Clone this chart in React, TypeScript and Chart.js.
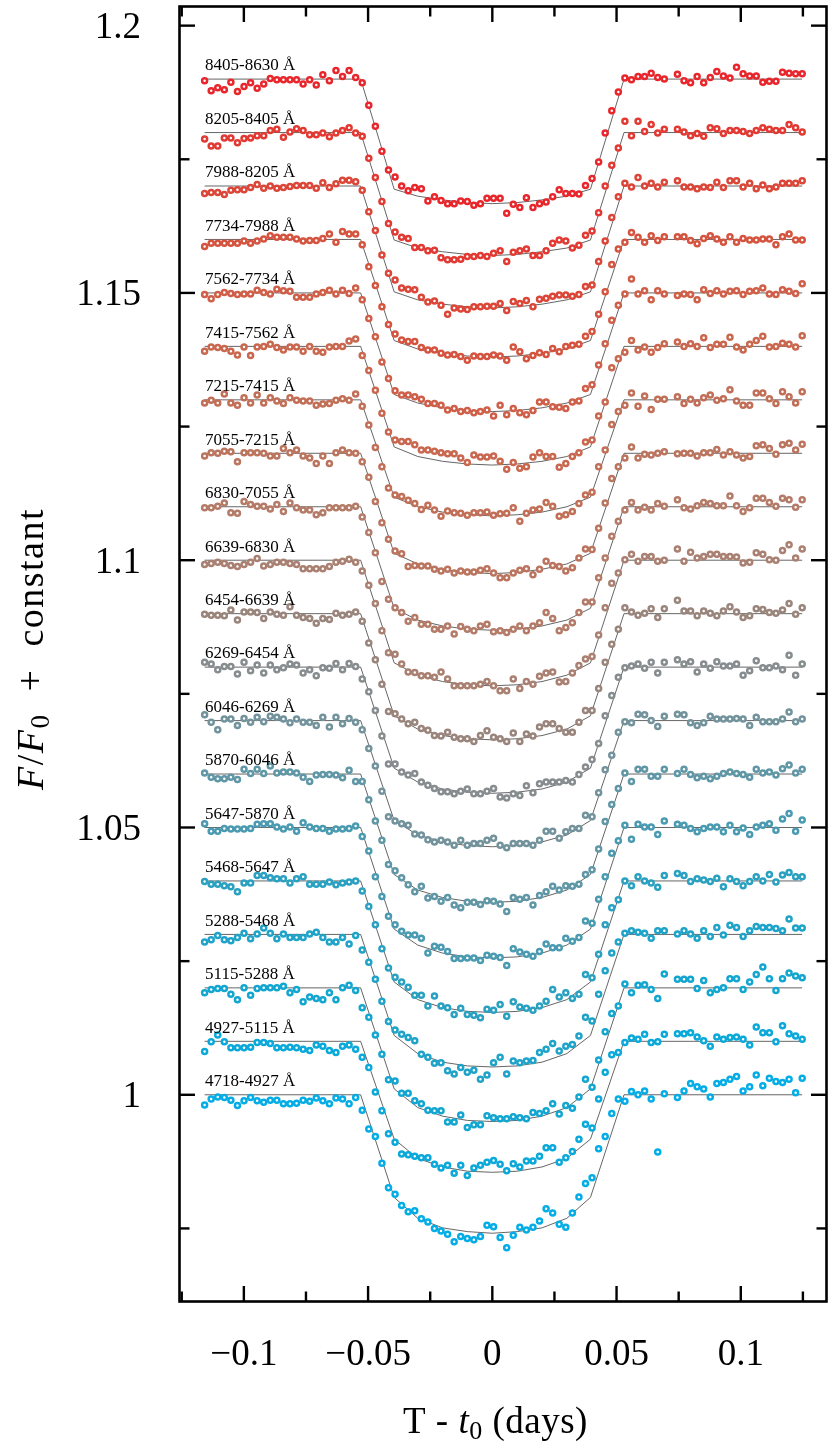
import React, { useEffect, useRef } from 'react';
import { Chart, registerables } from 'chart.js';
Chart.register(...registerables);

// ---------- data ----------
const BANDS = ['8405-8630', '8205-8405', '7988-8205', '7734-7988', '7562-7734', '7415-7562', '7215-7415', '7055-7215', '6830-7055', '6639-6830', '6454-6639', '6269-6454', '6046-6269', '5870-6046', '5647-5870', '5468-5647', '5288-5468', '5115-5288', '4927-5115', '4718-4927'];
const OFFSETS = [1.19, 1.18, 1.17, 1.16, 1.15, 1.14, 1.13, 1.12, 1.11, 1.1, 1.09, 1.08, 1.07, 1.06, 1.05, 1.04, 1.03, 1.02, 1.01, 1.0];
const COLORS = ['#e8262b', '#e23a33', '#db4638', '#d5543f', '#cf5f48', '#c9684f', '#c26f58', '#bb755f', '#b47b68', '#a98071', '#9a857c', '#878c8f', '#73939c', '#6097a6', '#4a9bb1', '#2aa1c1', '#1fa3c8', '#13a6d0', '#0aa9da', '#05ade6'];

// observation times (days from mid-transit): first exposure and cadence
const T_START = -0.11579;
const CADENCE = 0.002643;

// relative flux minus band offset, in units of 1e-4 (null = missing exposure)
const F_8405 = [-3,-22,-16,-20,-6,-23,-14,-7,-17,-9,1,-1,-1,-1,-1,-9,-1,-11,8,-3,16,5,16,3,-7,-49,-88,-135,-170,-183,-200,-209,-203,-205,-228,-220,-227,-233,-233,-228,-229,-236,-233,-223,-223,-223,-251,-234,-240,-222,-240,-233,-230,-220,-207,-214,-214,-215,-199,-186,-155,-101,-59,-24,2,-1,5,5,11,3,0,null,9,-3,-7,5,-7,3,14,6,2,22,10,6,6,-6,-4,-4,13,11,10,10];
const F_8205 = [-12,-25,-25,-10,-10,-19,-11,-10,-6,-6,4,6,-9,1,7,4,-4,-4,-1,-8,-1,4,9,-1,-7,-48,-84,-129,-170,-186,-196,-198,-215,-215,-221,-220,-234,-238,-238,-237,-232,-232,-230,-232,-226,-221,-241,-224,-221,-218,-230,-230,-221,-207,-201,-203,-216,-211,-192,-184,-150,-100,-61,-29,21,-6,21,2,15,-1,6,null,6,1,-6,-2,-7,9,7,-2,4,4,2,-2,4,9,6,4,4,15,9,1];
const F_7988 = [-14,-12,-12,-16,-8,-7,-7,-3,3,-4,0,-4,-3,-1,1,1,1,-4,6,-3,4,11,11,8,-8,-48,-83,-129,-163,-176,-191,-193,-194,-208,-217,-215,-223,-240,-228,-230,-231,-226,-226,-225,-225,-220,-233,-216,-220,-214,-226,-212,-210,-206,-204,-204,-206,-203,-188,-185,-141,-103,-59,-20,5,-2,16,0,5,-2,7,null,10,-2,-2,-5,-2,-3,7,-3,10,10,-2,5,-5,2,-5,-2,5,5,5,10];
const F_7734 = [-13,-7,-7,-7,-7,-7,-3,-7,-3,1,7,4,4,4,1,-3,-2,-2,2,10,-5,15,10,10,-10,-51,-86,-126,-159,-177,-188,-191,-191,-202,-207,-207,-213,-216,-215,-219,-226,-218,-219,-219,-216,-218,-226,-201,-210,-223,-217,-212,-215,-204,-210,-200,-198,-196,-181,-172,-140,-98,-47,-18,-5,13,4,-5,7,-2,5,null,5,5,-2,-8,2,7,1,-5,5,-5,2,-1,-1,1,1,-10,5,10,-1,-1];
const F_7562 = [-3,-11,-3,1,-1,-3,-2,-2,5,1,-2,7,4,3,-8,-8,-8,-2,1,5,-2,5,-1,9,-13,-48,-82,-129,-160,-183,-191,-191,-194,-199,-207,-207,-210,-219,-216,-222,-220,-224,-222,-219,-230,-210,-228,-216,-224,-228,-220,-204,-204,-213,-214,-216,-204,-202,-179,-172,-135,-95,-51,-23,-2,26,-2,4,-13,4,-2,null,-5,-2,-3,-13,6,-1,4,-2,3,4,-3,3,4,9,-2,-3,6,3,-1,17];
const F_7415 = [-9,-1,-2,-4,-9,-16,-1,-17,-1,0,4,-2,-7,-1,-1,-9,0,-9,-11,-1,0,0,10,14,-17,-45,-82,-125,-160,-175,-178,-178,-184,-194,-194,-196,-199,-201,-201,-209,-217,-203,-207,-207,-205,-215,-230,-217,-228,-225,-207,-199,-206,-206,-226,-219,-206,-199,-179,-175,-130,-104,-40,-23,-11,11,-7,-1,-11,-2,5,null,8,0,5,0,16,-2,4,4,17,-1,-7,4,11,19,-1,0,6,4,-1,20];
const F_7215 = [-6,-1,-6,11,-6,-10,4,-6,9,-6,4,-2,-7,4,-1,-2,-2,-10,-8,-7,-1,2,-1,11,-12,-47,-89,-125,-165,-178,-181,-188,-194,-205,-197,-206,-218,-208,-211,-212,-216,-211,-211,-210,-216,-213,-212,-202,-227,-212,-206,-204,-192,-199,-218,-215,-209,-194,-178,-173,-125,-94,-46,-22,-10,13,-12,7,-18,1,1,null,6,-7,1,-6,4,9,-1,2,19,-2,-10,-10,13,13,2,-7,15,6,-6,15];
const F_7055 = [-5,1,0,4,3,-16,1,1,1,0,-5,-5,9,1,6,-5,-9,-19,-5,-19,1,6,1,0,-16,-45,-90,-130,-161,-183,-188,-212,-210,-211,-211,-217,-220,-217,-224,-220,-222,-222,-219,-216,-224,-233,-233,-224,-219,-216,-227,-217,-202,-210,-212,-220,-214,-196,-179,-180,-140,-93,-47,-25,-9,12,-9,-2,-3,0,3,null,-1,0,0,-5,1,1,7,-3,3,-3,-9,-6,14,16,9,-2,16,19,6,17];
const F_6830 = [-2,-2,1,7,-11,-12,10,4,1,1,-4,4,-9,7,-2,-6,-6,-15,-11,-2,-2,-2,-2,1,-19,-48,-86,-140,-173,-189,-198,-214,-207,-220,-220,-229,-229,-223,-238,-224,-229,-232,-223,-220,-234,-232,-235,-229,-223,-232,-223,-217,-198,-209,-232,-226,-217,-198,-178,-178,-133,-96,-55,-27,-6,8,-6,-1,-6,6,1,null,13,-2,-4,2,8,6,2,2,20,2,-9,-2,16,16,8,1,16,13,-1,13];
const F_6639 = [-8,-6,-4,-6,-10,-12,-8,-4,3,-11,-8,-4,-4,-6,-8,-16,-16,-16,-16,-12,-4,-2,2,-4,-20,-47,-81,-132,-173,-176,-194,-209,-210,-216,-216,-219,-209,-222,-235,-235,-235,-235,-232,-227,-235,-244,-244,-222,-240,-227,-232,-217,-211,-209,-228,-227,-211,-197,-185,-180,-140,-89,-43,-24,1,11,-2,7,7,-2,0,null,21,-2,15,4,7,11,11,7,7,6,-5,-4,14,11,1,0,18,29,4,21];
const F_6454 = [-1,-3,-3,-4,7,-12,3,3,2,-9,3,-1,-3,13,-3,-7,-9,-18,-9,-11,1,-3,-1,3,-14,-55,-86,-132,-183,-187,-197,-206,-203,-215,-218,-228,-229,-222,-231,-234,-234,-239,-228,-219,-231,-234,-239,-223,-239,-225,-229,-212,-206,-206,-215,-222,-222,-203,-181,-181,-140,-91,-57,-29,11,3,-3,1,9,-7,9,null,25,5,5,-4,5,1,-4,5,13,3,-7,-4,9,8,2,1,7,19,-1,11];
const F_6269 = [9,6,-5,1,1,-13,9,-7,4,-11,4,-5,-1,6,4,-11,-5,-16,-1,-2,7,-5,7,1,-22,-46,-81,-129,-181,-181,-196,-202,-199,-215,-221,-227,-233,-233,-237,-232,-228,-237,-237,-232,-227,-243,-245,-237,-240,-222,-235,-218,-215,-215,-215,-212,-215,-201,-187,-173,-143,-91,-53,-19,-1,2,6,-2,9,-11,9,null,14,6,10,-9,6,-2,10,2,2,6,-15,-7,12,-1,-1,2,-5,22,-15,6];
const F_6046 = [11,-3,-17,3,3,-9,4,-3,6,-2,8,6,3,-4,3,-3,-3,-9,6,-12,6,-6,4,-3,-17,-52,-85,-132,-180,-188,-193,-196,-212,-214,-223,-227,-224,-227,-233,-224,-233,-230,-230,-224,-220,-233,-238,-230,-230,-230,-233,-224,-207,-207,-220,-208,-202,-202,-177,-180,-135,-92,-65,-22,-2,-4,12,11,0,-11,8,null,12,11,-4,-9,-4,8,3,3,3,4,3,-9,6,-2,-2,-2,3,16,-2,3];
const F_5870 = [2,-6,-9,-9,-6,-10,9,1,9,1,15,2,4,4,2,-6,-14,-2,-1,-1,-2,-7,7,-14,-14,-48,-88,-124,-169,-181,-194,-207,-220,-210,-232,-229,-238,-231,-245,-250,-240,-240,-244,-237,-238,-243,-257,-231,-234,-231,-245,-227,-220,-210,-217,-209,-210,-206,-188,-179,-140,-89,-57,-27,2,-14,9,9,-4,-4,9,null,1,9,-1,-7,-4,-9,-4,1,4,1,-1,-6,9,2,4,-2,10,17,2,9];
const F_5647 = [7,-7,-7,-2,-3,-3,-3,-2,6,7,7,1,-3,1,-7,9,1,-2,-2,-7,-3,-3,-2,3,-17,-44,-92,-129,-166,-182,-194,-201,-201,-207,-235,-222,-224,-232,-245,-245,-244,-244,-249,-239,-241,-243,-258,-227,-233,-237,-241,-232,-218,-225,-225,-207,-213,-206,-175,-179,-134,-92,-48,-25,4,-22,6,1,1,-13,12,null,6,4,-2,-8,-2,1,1,-8,4,-8,-1,-13,1,4,7,-5,16,26,-7,14];
const F_5468 = [-1,-6,-6,-9,-11,-20,-4,-4,10,10,6,4,4,-4,4,8,-6,-6,-6,-2,-7,-4,-2,0,-19,-48,-82,-127,-163,-180,-189,-199,-214,-214,-234,-215,-234,-237,-250,-238,-250,-251,-256,-240,-242,-231,-253,-226,-236,-238,-242,-234,-225,-203,-217,-209,-220,-212,-175,-181,-137,-82,-50,-35,0,-9,8,0,-4,-12,10,null,14,10,-1,4,2,-1,5,-11,4,-1,-9,-1,8,0,12,-2,11,16,8,8];
const F_5288 = [-14,-10,-2,-10,-12,-6,2,-8,1,12,2,-8,1,-6,-6,-6,1,4,-6,-14,-14,-6,-18,-2,-29,-52,-84,-125,-163,-179,-187,-193,-199,-224,-230,-241,-240,-255,-261,-249,-258,-254,-271,-263,-240,-230,-261,-237,-240,-237,-236,-221,-215,-204,-218,-209,-206,-190,-155,-162,-112,-68,-35,-14,2,7,4,2,-7,7,7,null,1,7,1,-7,7,-4,13,-1,17,13,-4,7,15,13,13,11,7,29,12,12];
const F_5115 = [-9,-3,-1,-1,-12,-22,0,-14,-1,0,0,0,3,-9,-3,-26,-17,-20,-22,-9,-22,0,5,-5,-37,-55,-88,-124,-172,-174,-197,-197,-211,-217,-229,-230,-230,-251,-251,-238,-261,-256,-256,-239,-243,-245,-245,-241,-243,-245,-233,-235,-230,-217,-236,-220,-225,-204,-171,-186,-135,-82,-48,-34,7,-9,5,6,-3,-20,26,null,16,16,16,-1,14,-9,-3,0,17,17,-3,11,25,39,17,-5,17,28,22,19];
const F_4927 = [-19,-1,12,-1,-12,-12,-12,-11,-2,-2,-4,-12,-12,-11,-12,-15,-17,-7,-9,-17,-21,-9,-7,-15,-30,-49,-95,-130,-173,-189,-211,-212,-215,-218,-218,-230,-237,-232,-247,-232,-251,-237,-232,-226,-223,-230,-242,-229,-235,-224,-224,-215,-199,-199,-226,-218,-206,-183,-155,-162,-108,-58,-25,-21,-2,6,4,13,-2,-1,13,null,14,14,16,8,1,-9,8,4,7,8,4,-7,27,16,16,-1,29,14,10,4];
const F_4718 = [-19,-8,-4,-5,-10,-20,-11,-5,-11,-14,-10,-10,-17,-17,-16,-10,-12,-6,-11,-17,-6,-8,-17,-5,-29,-64,-78,-128,-174,-186,-207,-219,-217,-232,-238,-250,-255,-261,-275,-265,-269,-271,-265,-244,-247,-267,-286,-263,-248,-253,-248,-236,-213,-221,-242,-248,-221,-191,-166,-155,-101,-78,-35,-8,-12,6,0,7,-8,-107,2,null,-5,7,21,15,11,-4,21,23,29,34,7,15,37,17,31,25,23,29,4,31];
const SERIES = [F_8405, F_8205, F_7988, F_7734, F_7562, F_7415, F_7215, F_7055, F_6830, F_6639, F_6454, F_6269, F_6046, F_5870, F_5647, F_5468, F_5288, F_5115, F_4927, F_4718];

// best-fit transit model: knot times and depths (1e-4) at [2nd contact, 0.03, 0.02, 0.01, centre]
const MODEL_T = [-0.1158, -0.053, -0.0395, -0.03, -0.02, -0.01, 0, 0.01, 0.02, 0.03, 0.0395, 0.053, 0.1247];
const MODEL_DEPTH = [
  [206, 219, 226, 231, 233], [201, 216, 223, 228, 230], [198, 213, 221, 226, 228], [189, 205, 213, 218, 220],
  [190, 206, 215, 220, 222], [188, 206, 215, 220, 222], [182, 200, 210, 215, 217], [187, 207, 217, 223, 225],
  [190, 212, 223, 229, 231], [192, 215, 227, 233, 235], [191, 216, 228, 234, 236], [189, 215, 228, 234, 236],
  [187, 214, 227, 234, 236], [188, 217, 231, 238, 240], [190, 220, 235, 242, 244], [189, 222, 237, 244, 246],
  [189, 223, 239, 246, 248], [189, 224, 240, 248, 250], [183, 219, 235, 243, 245], [192, 231, 249, 256, 259],
];

// axes
const X_MIN = -0.1259, X_MAX = 0.1345;
const Y_MIN = 0.96133, Y_MAX = 1.20358;
const X_MAJOR = [-0.1, -0.05, 0, 0.05, 0.1];
const X_LABELS = ['\u22120.1', '\u22120.05', '0', '0.05', '0.1'];
const X_MINOR = [-0.125, -0.075, -0.025, 0.025, 0.075, 0.125];
const Y_MAJOR = [1, 1.05, 1.1, 1.15, 1.2];
const Y_LABELS = ['1', '1.05', '1.1', '1.15', '1.2'];
const Y_MINOR = [0.975, 1.025, 1.075, 1.125, 1.175];

const SERIF = '"Liberation Serif", "Times New Roman", serif';

type Part = { text: string; font: string; dy?: number };
function drawParts(ctx: CanvasRenderingContext2D, parts: Part[], x: number, y: number) {
  let cx = x;
  for (const p of parts) {
    ctx.font = p.font;
    ctx.fillText(p.text, cx, y + (p.dy || 0));
    cx += ctx.measureText(p.text).width;
  }
}
function partsWidth(ctx: CanvasRenderingContext2D, parts: Part[]) {
  let w = 0;
  for (const p of parts) { ctx.font = p.font; w += ctx.measureText(p.text).width; }
  return w;
}

const framePlugin = {
  id: 'frame',
  afterDatasetsDraw(chart: any) {
    const { ctx, chartArea: a, scales } = chart;
    const xs = scales.x, ys = scales.y;
    ctx.save();
    ctx.strokeStyle = '#000';
    ctx.lineWidth = 2.6;
    ctx.lineCap = 'butt';
    ctx.strokeRect(a.left, a.top, a.right - a.left, a.bottom - a.top);
    const seg = (x1: number, y1: number, x2: number, y2: number) => {
      ctx.beginPath(); ctx.moveTo(x1, y1); ctx.lineTo(x2, y2); ctx.stroke();
    };
    ctx.lineWidth = 2.4;
    X_MAJOR.forEach((v) => { const p = xs.getPixelForValue(v); seg(p, a.bottom, p, a.bottom - 15.5); seg(p, a.top, p, a.top + 15.5); });
    X_MINOR.forEach((v) => { const p = xs.getPixelForValue(v); seg(p, a.bottom, p, a.bottom - 10); seg(p, a.top, p, a.top + 10); });
    Y_MAJOR.forEach((v) => { const p = ys.getPixelForValue(v); seg(a.left, p, a.left + 15.5, p); seg(a.right, p, a.right - 15.5, p); });
    Y_MINOR.forEach((v) => { const p = ys.getPixelForValue(v); seg(a.left, p, a.left + 10, p); seg(a.right, p, a.right - 10, p); });

    ctx.fillStyle = '#000';
    // tick labels
    ctx.font = `37px ${SERIF}`;
    ctx.textBaseline = 'alphabetic';
    ctx.textAlign = 'center';
    X_MAJOR.forEach((v, i) => ctx.fillText(X_LABELS[i], xs.getPixelForValue(v), 1365));
    ctx.textAlign = 'right';
    Y_MAJOR.forEach((v, i) => ctx.fillText(Y_LABELS[i], 141, ys.getPixelForValue(v) + 12.5));

    // band labels
    ctx.textAlign = 'left';
    ctx.font = `17px ${SERIF}`;
    const lx = xs.getPixelForValue(T_START) + 0.5;
    BANDS.forEach((b, k) => ctx.fillText(`${b} \u00C5`, lx, ys.getPixelForValue(OFFSETS[k]) - 8.7));

    // x title
    const roman = `37px ${SERIF}`, ital = `italic 37px ${SERIF}`, sub = `26px ${SERIF}`;
    (ctx as any).letterSpacing = '0.5px';
    drawParts(ctx, [
      { text: 'T - ', font: roman }, { text: 't', font: ital }, { text: '0', font: sub, dy: 6 }, { text: ' (days)', font: roman },
    ], 403, 1433);

    // y title (rotated)
    const yr = `38px ${SERIF}`, yi = `italic 38px ${SERIF}`, ys2 = `27px ${SERIF}`;
    (ctx as any).letterSpacing = '1.5px';
    const yParts: Part[] = [
      { text: 'F', font: yi }, { text: '/', font: yr }, { text: 'F', font: yi }, { text: '0', font: ys2, dy: 6 },
      { text: '  +  ', font: yr }, { text: 'constant', font: yr },
    ];
    const w = partsWidth(ctx, yParts);
    ctx.translate(43, 649);
    ctx.rotate(-Math.PI / 2);
    drawParts(ctx, yParts, -w / 2, 0);
    (ctx as any).letterSpacing = '0px';
    ctx.restore();
  },
};

export default function App() {
  const ref = useRef<HTMLCanvasElement | null>(null);
  useEffect(() => {
    if (!ref.current) return;
    const datasets: any[] = [];
    SERIES.forEach((vals, k) => {
      const d = MODEL_DEPTH[k];
      const mv = [0, 0, -d[0], -d[1], -d[2], -d[3], -d[4], -d[3], -d[2], -d[1], -d[0], 0, 0];
      datasets.push({
        type: 'line',
        data: MODEL_T.map((t, i) => ({ x: t, y: OFFSETS[k] + mv[i] / 10000 })),
        borderColor: '#555555',
        borderWidth: 0.9,
        pointRadius: 0,
        fill: false,
        tension: 0,
        order: 2,
      });
    });
    SERIES.forEach((vals, k) => {
      datasets.push({
        type: 'scatter',
        data: vals.map((v, i) => (v === null ? null : { x: T_START + CADENCE * i, y: OFFSETS[k] + (v as number) / 10000 })).filter(Boolean),
        borderColor: COLORS[k],
        backgroundColor: '#ffffff',
        borderWidth: 2.5,
        pointRadius: 2.5,
        showLine: false,
        order: 1,
      });
    });
    const chart = new Chart(ref.current, {
      type: 'scatter',
      data: { datasets },
      options: {
        responsive: false,
        animation: false,
        devicePixelRatio: 1,
        events: [],
        layout: { padding: { left: 179.5, right: 3.5, top: 1.5, bottom: 141.5 } },
        scales: {
          x: { type: 'linear', display: false, min: X_MIN, max: X_MAX },
          y: { type: 'linear', display: false, min: Y_MIN, max: Y_MAX },
        },
        plugins: { legend: { display: false }, tooltip: { enabled: false } },
      },
      plugins: [framePlugin],
    } as any);
    return () => chart.destroy();
  }, []);
  return (
    <div style={{ position: 'absolute', left: 0, top: 0, width: 833, height: 1443, background: '#fff' }}>
      <canvas ref={ref} width={833} height={1443} style={{ display: 'block', width: 833, height: 1443 }} />
    </div>
  );
}
